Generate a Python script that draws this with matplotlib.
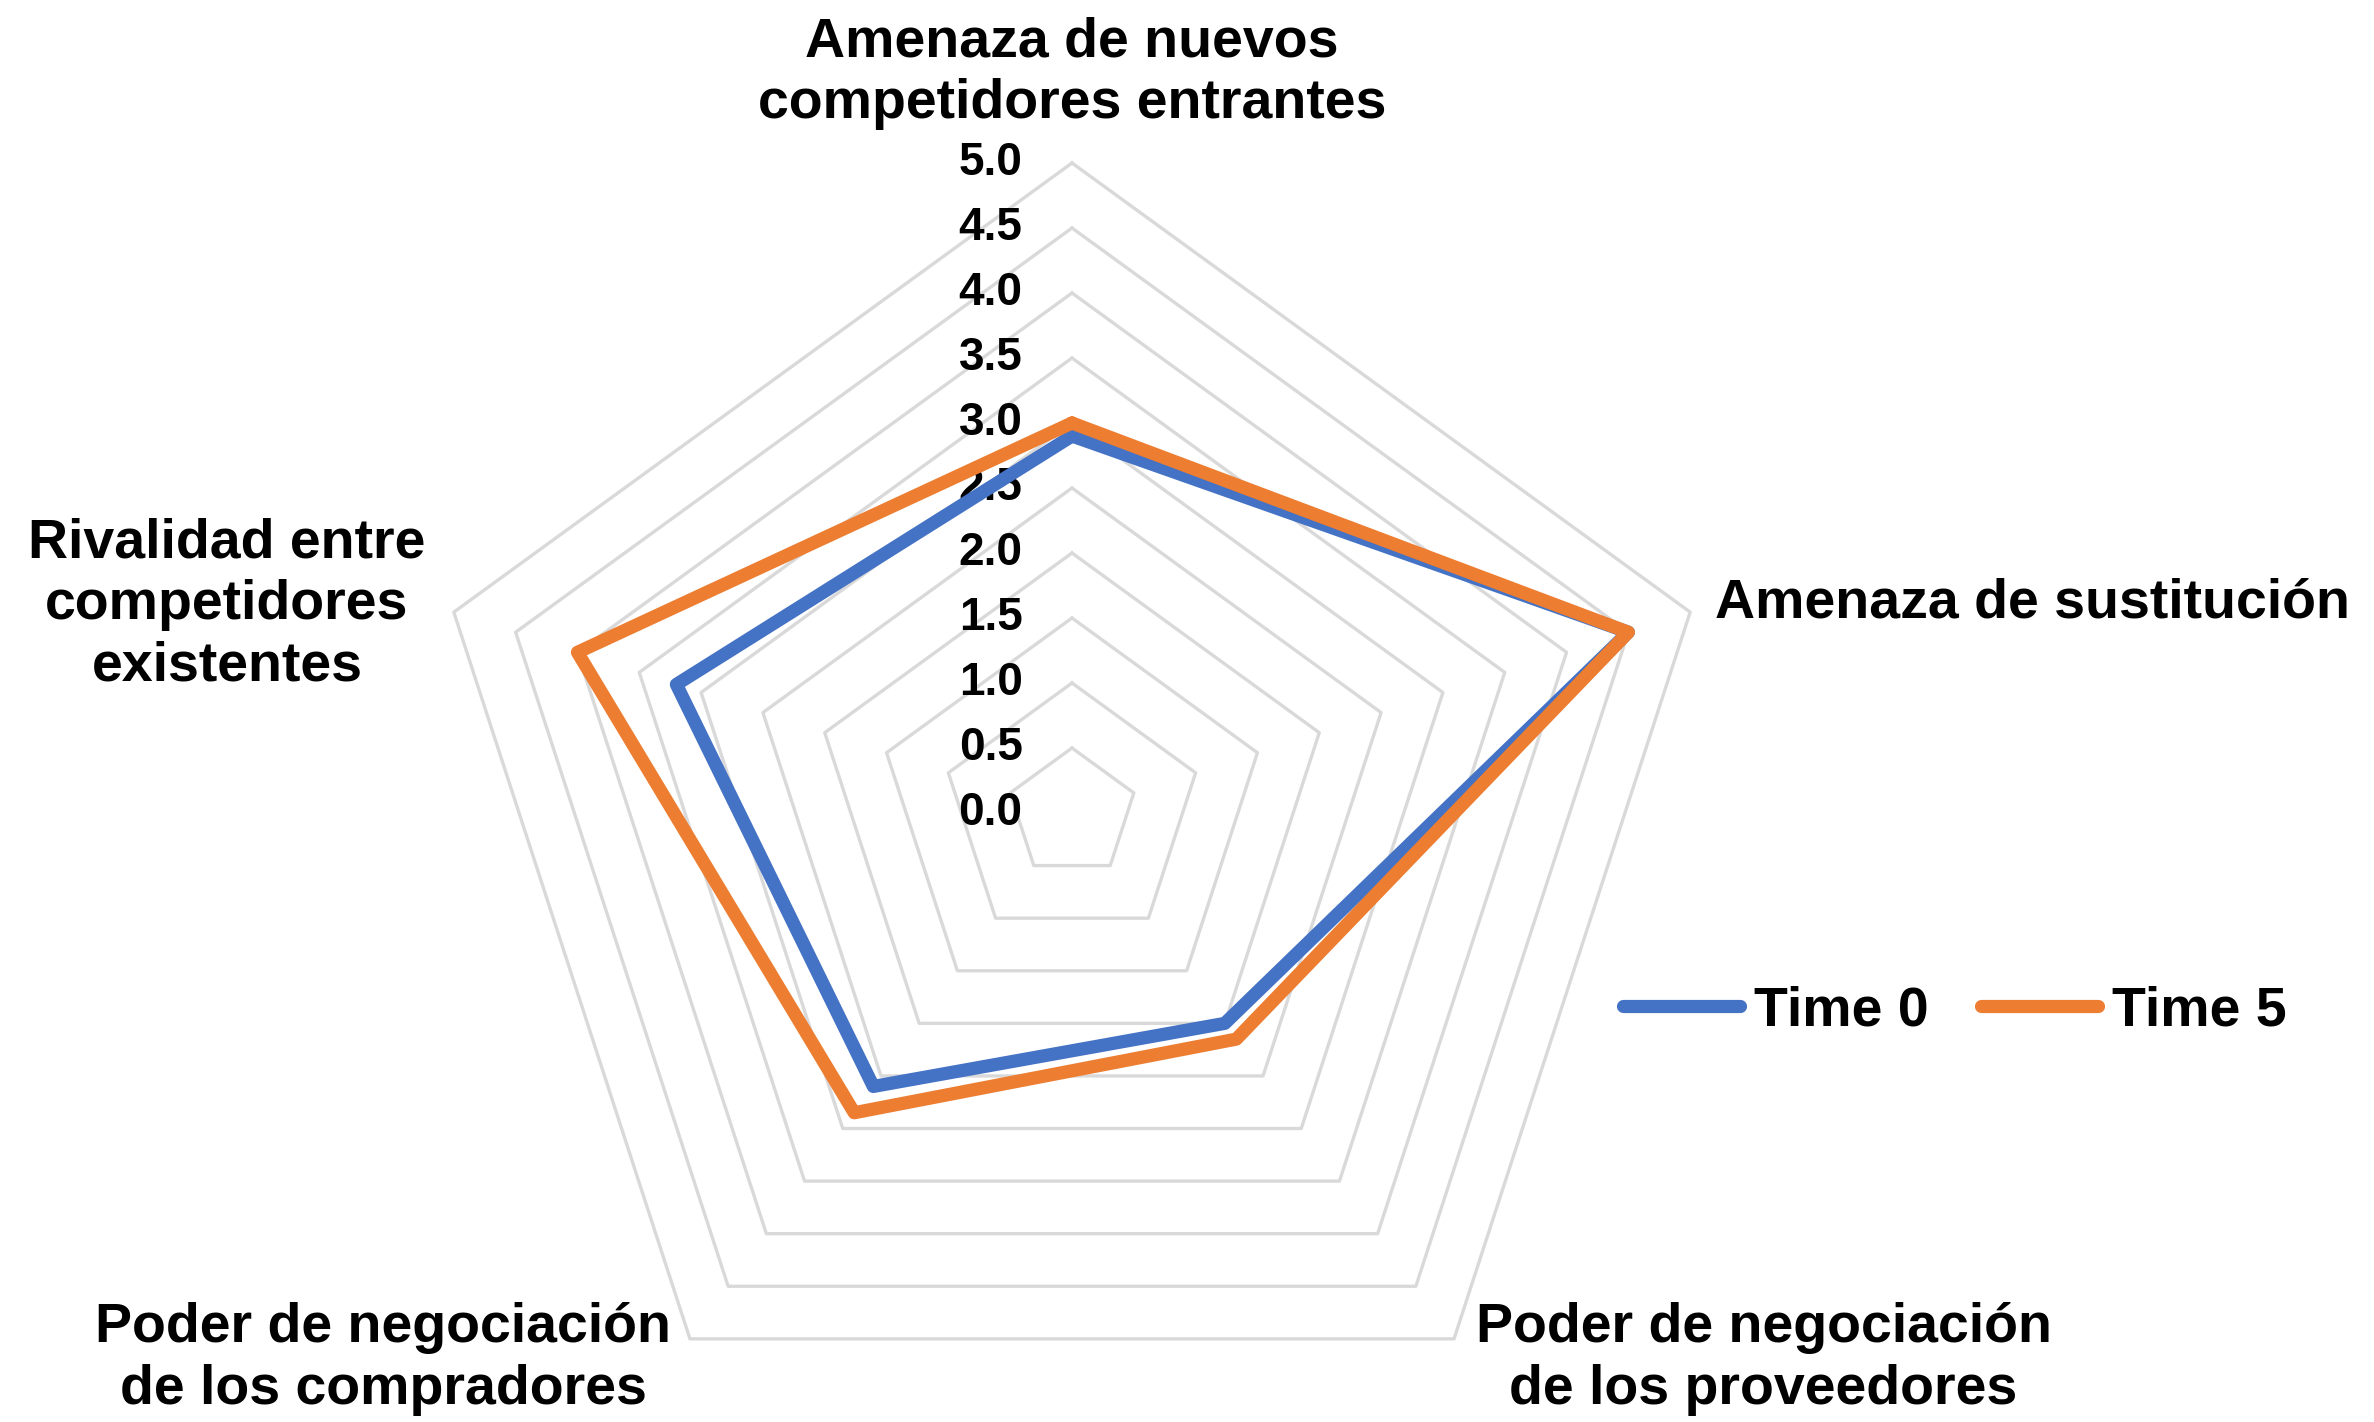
import numpy as np
import matplotlib
matplotlib.use('Agg')
import matplotlib.pyplot as plt

categories = ['Amenaza de nuevos\ncompetidores entrantes',
              'Amenaza de sustitución',
              'Poder de negociación\nde los proveedores',
              'Poder de negociación\nde los compradores',
              'Rivalidad entre\ncompetidores\nexistentes']
time0 = [2.9, 4.5, 2.0, 2.6, 3.2]
time5 = [3.0, 4.5, 2.15, 2.85, 4.0]
ticks = [0.0, 0.5, 1.0, 1.5, 2.0, 2.5, 3.0, 3.5, 4.0, 4.5, 5.0]

plt.rcParams['font.family'] = ['Liberation Sans', 'DejaVu Sans']
plt.rcParams['font.weight'] = 'bold'

# clockwise from the top
ang = np.deg2rad(90 - 72 * np.arange(len(categories)))


def xy(vals):
    v = np.array(list(vals) + [vals[0]])
    a = np.append(ang, ang[0])
    return v * np.cos(a), v * np.sin(a)


fig = plt.figure(figsize=(23.74, 14.22), dpi=100)
ax = fig.add_axes([0, 0, 1, 1])
ax.set_xlim(-1072 / 130, (2374 - 1072) / 130)
ax.set_ylim(-(1422 - 813) / 130, 813 / 130)
ax.axis('off')

# pentagon grid
for t in ticks[1:]:
    gx, gy = xy([t] * len(categories))
    ax.plot(gx, gy, color='#D9D9D9', lw=2.4, zorder=1)

# tick labels
for t in ticks:
    ax.text(-0.38, t, f'{t:.1f}', ha='right', va='center', fontsize=33,
            fontweight='bold', zorder=3)

x0, y0 = xy(time0)
x5, y5 = xy(time5)
ax.plot(x0, y0, color='#4472C4', lw=9.5, solid_joinstyle='round',
        solid_capstyle='round', label='Time 0', zorder=4)
ax.plot(x5, y5, color='#ED7D31', lw=9.5, solid_joinstyle='round',
        solid_capstyle='round', label='Time 5', zorder=5)

# category labels
lab_pos = [(0.0, 5.69, 'center'), (4.946, 1.615, 'left'),
           (5.32, -4.20, 'center'), (-5.30, -4.20, 'center'),
           (-6.5, 1.60, 'center')]
for (lx, ly, ha), name in zip(lab_pos, categories):
    ax.text(lx, ly, name, ha=ha, va='center', multialignment='center',
            fontsize=40, fontweight='bold', linespacing=1.24)

ax.legend(loc='center left', bbox_to_anchor=(1623 / 2374, 1 - 1011 / 1422),
          ncol=2, frameon=False, fontsize=40, handlelength=2.1,
          handletextpad=0.25, columnspacing=0.95, borderpad=0, borderaxespad=0)

fig.savefig('out.png', dpi=100)
